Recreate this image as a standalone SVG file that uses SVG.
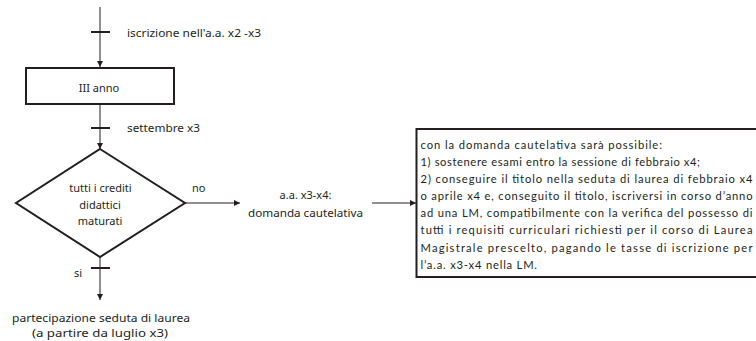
<svg xmlns="http://www.w3.org/2000/svg" width="756" height="341" viewBox="0 0 756 341">
<style>
  .lbl { font-family: "Noto Sans", "Open Sans", sans-serif; font-size: 11px; fill: #231f20; }
  .mid { text-anchor: middle; }
  .box { font-family: Lato, "Liberation Sans", sans-serif; font-size: 11.2px; fill: #231f20; }
  .shape { fill: #ffffff; stroke: #231f20; stroke-width: 2; }
  .conn { fill: none; stroke: #231f20; stroke-width: 1; }
  .tick { fill: none; stroke: #231f20; stroke-width: 2; }
</style>
<defs>
  <marker id="arr" markerUnits="userSpaceOnUse" markerWidth="7" markerHeight="6" refX="6" refY="3" orient="auto">
    <path d="M0,0 L6,3 L0,6 z" fill="#231f20"/>
  </marker>
</defs>
<rect width="756" height="341" fill="#ffffff"/>

<g id="connectors">
  <line class="conn" x1="100" y1="7" x2="100" y2="67" marker-end="url(#arr)"/>
  <line class="tick" x1="91" y1="32" x2="110" y2="32"/>
  <line class="conn" x1="100" y1="104" x2="100" y2="149" marker-end="url(#arr)"/>
  <line class="tick" x1="91" y1="128" x2="110" y2="128"/>
  <line class="conn" x1="185" y1="203" x2="240" y2="203" marker-end="url(#arr)"/>
  <line class="conn" x1="372" y1="203" x2="416" y2="203" marker-end="url(#arr)"/>
  <line class="conn" x1="100" y1="257" x2="100" y2="300" marker-end="url(#arr)"/>
  <line class="tick" x1="91" y1="268" x2="110" y2="268"/>
  <text class="lbl" x="127" y="37" textLength="134" lengthAdjust="spacingAndGlyphs">iscrizione nell'a.a. x2 -x3</text>
  <text class="lbl" x="127" y="132" textLength="73" lengthAdjust="spacingAndGlyphs">settembre x3</text>
  <text class="lbl" x="192" y="192">no</text>
  <text class="lbl" x="74" y="277">si</text>
</g>

<g id="node-anno">
  <rect class="shape" x="26" y="68" width="148" height="36"/>
  <text class="lbl mid" x="99" y="92">III anno</text>
</g>

<g id="node-crediti">
  <polygon class="shape" points="100,149 185,203 100,257 16,203"/>
  <text class="lbl mid" x="100.5" y="192">tutti i crediti</text>
  <text class="lbl mid" x="100" y="209">didattici</text>
  <text class="lbl mid" x="100" y="225">maturati</text>
</g>

<g id="node-cautelativa">
  <text class="lbl mid" x="305.5" y="199">a.a. x3-x4:</text>
  <text class="lbl mid" x="305.5" y="217" textLength="115" lengthAdjust="spacingAndGlyphs">domanda cautelativa</text>
</g>

<g id="node-laurea">
  <text class="lbl mid" x="101" y="322" textLength="178" lengthAdjust="spacingAndGlyphs">partecipazione seduta di laurea</text>
  <text class="lbl mid" x="100" y="337" textLength="136" lengthAdjust="spacingAndGlyphs">(a partire da luglio x3)</text>
</g>

<g id="node-info">
  <rect class="shape" x="416.5" y="129" width="345" height="148" stroke-width="2.5"/>
  <text class="box" x="420.5" y="149" textLength="241.5" lengthAdjust="spacing">con la domanda cautelativa  sarà possibile:</text>
  <text class="box" x="420.5" y="166" textLength="279.5" lengthAdjust="spacing">1) sostenere esami entro la sessione di febbraio x4;</text>
  <text class="box" x="420.5" y="183" textLength="332" lengthAdjust="spacing">2) conseguire il titolo nella seduta di laurea di febbraio x4</text>
  <text class="box" x="420.5" y="200" textLength="332" lengthAdjust="spacing">o aprile x4 e, conseguito il titolo, iscriversi in corso d’anno</text>
  <text class="box" x="420.5" y="217" textLength="332" lengthAdjust="spacing">ad una LM, compatibilmente con la verifica del possesso di</text>
  <text class="box" x="420.5" y="234" textLength="332" lengthAdjust="spacing">tutti i requisiti curriculari richiesti per il corso di Laurea</text>
  <text class="box" x="420.5" y="252" textLength="332" lengthAdjust="spacing">Magistrale prescelto, pagando le tasse di iscrizione per</text>
  <text class="box" x="420.5" y="269" textLength="116.5" lengthAdjust="spacing">l’a.a. x3-x4 nella LM.</text>
</g>
</svg>
